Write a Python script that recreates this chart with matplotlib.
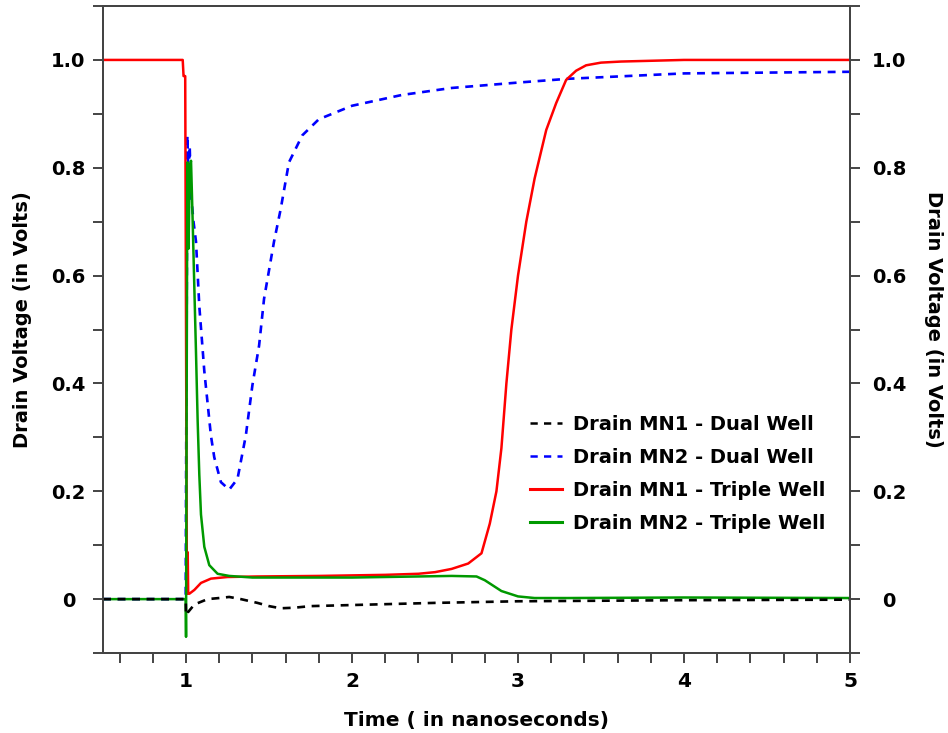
import numpy as np
import matplotlib.pyplot as plt
from matplotlib.lines import Line2D
from matplotlib.ticker import MultipleLocator, FixedLocator

# time axis (ns) and drain voltages (V)
t_mn1_dual = [0.5, 0.998, 1.0, 1.005, 1.01, 1.05, 1.13, 1.2, 1.26, 1.33, 1.43,
              1.5, 1.57, 1.65, 1.75, 2.0, 2.5, 3.0, 3.5, 4.0, 5.0]
v_mn1_dual = [0, 0, -0.028, -0.03, -0.025, -0.01, 0.0, 0.002, 0.004, 0.0,
              -0.007, -0.013, -0.017, -0.016, -0.013, -0.011, -0.007, -0.004,
              -0.003, -0.002, -0.001]

t_mn2_dual = [0.5, 0.998, 1.0, 1.008, 1.015, 1.022, 1.03, 1.045, 1.06, 1.08,
              1.11, 1.15, 1.17, 1.21, 1.26, 1.31, 1.36, 1.40, 1.44, 1.47, 1.50,
              1.53, 1.57, 1.62, 1.7, 1.8, 2.0, 2.3, 2.6, 3.0, 3.3, 4.0, 5.0]
v_mn2_dual = [0, 0, 0.2, 0.86, 0.78, 0.84, 0.75, 0.7, 0.663, 0.543,
              0.423, 0.303, 0.263, 0.217, 0.203, 0.223, 0.303, 0.397, 0.47,
              0.557, 0.61, 0.663, 0.723, 0.81, 0.86, 0.89, 0.915, 0.935, 0.948,
              0.958, 0.965, 0.975, 0.978]

t_mn1_triple = [0.5, 0.98, 0.985, 0.995, 1.0, 1.005, 1.01, 1.013, 1.02, 1.05,
                1.09, 1.15, 1.25, 1.43, 1.8, 2.2, 2.4, 2.5, 2.6, 2.7,
                2.78, 2.83, 2.87, 2.9, 2.93, 2.96, 3.0, 3.05, 3.1, 3.17, 3.23,
                3.29, 3.35, 3.41, 3.5, 3.62, 4.0, 5.0]
v_mn1_triple = [1.0, 1.0, 0.97, 0.97, 0.5, 0.01, 0.087, 0.01, 0.01, 0.017,
                0.03, 0.038, 0.041, 0.042, 0.043, 0.045, 0.047,
                0.05, 0.056, 0.066, 0.085, 0.14, 0.2, 0.28, 0.4, 0.5, 0.6, 0.7,
                0.78, 0.87, 0.92, 0.963, 0.98, 0.99, 0.995, 0.997, 1.0, 1.0]

t_mn2_triple = [0.5, 0.998, 1.0, 1.004, 1.008, 1.015, 1.022, 1.03, 1.04, 1.05,
                1.06, 1.07, 1.08, 1.09, 1.11, 1.14, 1.19, 1.26, 1.4, 2.0,
                2.4, 2.6, 2.75, 2.8, 2.85, 2.9, 3.0, 3.1, 3.3, 4.0, 5.0]
v_mn2_triple = [0, 0, -0.07, 0.4, 0.81, 0.65, 0.8, 0.813, 0.7, 0.577,
                0.457, 0.33, 0.23, 0.157, 0.097, 0.063, 0.047, 0.043, 0.04,
                0.04, 0.042, 0.043, 0.042, 0.035, 0.025, 0.015, 0.005, 0.002,
                0.002, 0.003, 0.002]

labels = ['Drain MN1 - Dual Well', 'Drain MN2 - Dual Well',
          'Drain MN1 - Triple Well', 'Drain MN2 - Triple Well']
yticks = [0, 0.2, 0.4, 0.6, 0.8, 1.0]
ytick_labels = ['0', '0.2', '0.4', '0.6', '0.8', '1.0']

plt.rcParams['font.family'] = 'DejaVu Sans'
plt.rcParams['font.weight'] = 'bold'

fig = plt.figure(figsize=(9.48, 7.33), dpi=100)
ax = fig.add_axes([0.1087, 0.1091, 0.7879, 0.8827])

dash = (0, (3, 2.5))
ax.plot(t_mn2_dual, v_mn2_dual, color='#0000ff', lw=1.9, ls=dash)
ax.plot(t_mn1_triple, v_mn1_triple, color='#ff0000', lw=1.8)
ax.plot(t_mn2_triple, v_mn2_triple, color='#009900', lw=1.8)
ax.plot(t_mn1_dual, v_mn1_dual, color='black', lw=1.9, ls=dash)

ax.set_xlim(0.5, 5)
ax.set_ylim(-0.1, 1.1)

spine_c = '#444444'
ax.xaxis.set_major_locator(FixedLocator([1, 2, 3, 4, 5]))
ax.xaxis.set_minor_locator(MultipleLocator(0.2))
ax.yaxis.set_major_locator(FixedLocator(yticks))
ax.yaxis.set_minor_locator(MultipleLocator(0.1))
ax.set_yticklabels(ytick_labels, ha='center')
ax.tick_params(which='both', direction='out', length=7, width=1.4, color=spine_c)
ax.tick_params(axis='x', labelsize=14.5, pad=7)
ax.tick_params(axis='y', labelsize=14, pad=18)

ax2 = ax.twinx()
ax2.set_ylim(-0.1, 1.1)
ax2.yaxis.set_major_locator(FixedLocator(yticks))
ax2.yaxis.set_minor_locator(MultipleLocator(0.1))
ax2.set_yticklabels(ytick_labels, ha='center')
ax2.tick_params(which='both', direction='out', length=7, width=1.4, color=spine_c,
                labelsize=14, pad=21)
for a in (ax, ax2):
    for s in a.spines.values():
        s.set_color(spine_c)
        s.set_linewidth(1.4)

ax.set_xlabel('Time ( in nanoseconds)', fontsize=14.5, fontweight='bold', labelpad=14)
ax.set_ylabel('Drain Voltage (in Volts)', fontsize=14, fontweight='bold')
ax.yaxis.set_label_coords(-0.095, 0.515)
ax2.set_ylabel('Drain Voltage (in Volts)', fontsize=14, fontweight='bold',
               rotation=270)
ax2.yaxis.set_label_coords(1.1245, 0.515)

handles = [Line2D([], [], color='black', lw=1.8, ls=(0, (2.9, 2.5))),
           Line2D([], [], color='#0000ff', lw=1.8, ls=(0, (2.9, 2.5))),
           Line2D([], [], color='#ff0000', lw=2.2),
           Line2D([], [], color='#009900', lw=2.2)]
ax.legend(handles, labels, loc='center left', bbox_to_anchor=(0.5716, 0.277),
          frameon=False, fontsize=14, handlelength=1.65, handletextpad=0.57,
          labelspacing=0.72, borderpad=0, borderaxespad=0)

fig.savefig('out.png', dpi=100)
